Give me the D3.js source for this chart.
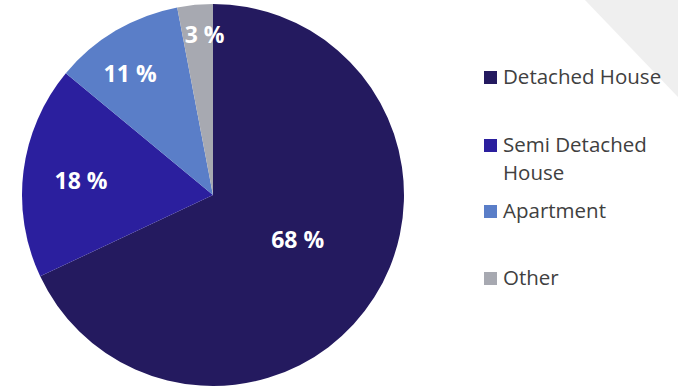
<!DOCTYPE html>
<html>
<head>
<meta charset="utf-8">
<script src="https://cdn.jsdelivr.net/npm/d3@7"></script>
<style>
  body { margin: 0; background: #fff; }
  svg { display: block; }
</style>
</head>
<body>
<script>
// chart data
let categories = ["Detached House", "Semi Detached House", "Apartment", "Other"];
let values = [68, 18, 11, 3];
let legendLines = [["Detached House"], ["Semi Detached", "House"], ["Apartment"], ["Other"]];
let colors = ["#241a5f", "#2b1f9e", "#5a7ec8", "#a7a9b1"];

let width = 678;
let height = 387;

let cx = 213, cy = 195, radius = 191;

// label placement tweaks (Excel "best fit" look): radius fraction and angle nudge in degrees
let labelFrac = [0.5, 0.695, 0.77, 0.84];
let labelNudge = [-4.8, -1.1, -3.7, 2.4];

let svg = d3.select("body")
  .append("svg")
  .attr("width", width)
  .attr("height", height);

// pale corner decoration
svg.append("path")
  .attr("d", "M585,0 L678,0 L678,97 Z")
  .attr("fill", "#efefef");

let pie = d3.pie().sort(null).value(d => d);
let arcs = pie(values);

let arc = d3.arc().innerRadius(0).outerRadius(radius);

let g = svg.append("g")
  .attr("transform", `translate(${cx},${cy})`);

g.selectAll("path")
  .data(arcs)
  .join("path")
    .attr("d", arc)
    .attr("fill", (d, i) => colors[i]);

g.selectAll("text")
  .data(arcs)
  .join("text")
    .attr("transform", (d, i) => {
      let a = (d.startAngle + d.endAngle) / 2 + labelNudge[i] * Math.PI / 180;
      let r = radius * labelFrac[i];
      return `translate(${Math.sin(a) * r},${-Math.cos(a) * r})`;
    })
    .attr("text-anchor", "middle")
    .attr("dy", "0.36em")
    .attr("fill", "#fff")
    .attr("font-family", "'Open Sans', sans-serif")
    .attr("font-weight", "bold")
    .attr("font-size", 23)
    .text(d => d.value + " %");

// legend
let baselines = [84, 152, 218, 285];

let legend = svg.append("g")
  .attr("font-family", "'Open Sans', sans-serif")
  .attr("font-size", 20.5)
  .attr("fill", "#404040");

let item = legend.selectAll("g")
  .data(categories)
  .join("g")
    .attr("transform", (d, i) => `translate(484,${baselines[i]})`);

item.append("rect")
  .attr("x", 0)
  .attr("y", -13)
  .attr("width", 13)
  .attr("height", 13)
  .attr("fill", (d, i) => colors[i]);

item.append("text")
  .selectAll("tspan")
  .data((d, i) => legendLines[i])
  .join("tspan")
    .attr("x", 19)
    .attr("y", (d, j) => j * 28)
    .text(d => d);
</script>
</body>
</html>
